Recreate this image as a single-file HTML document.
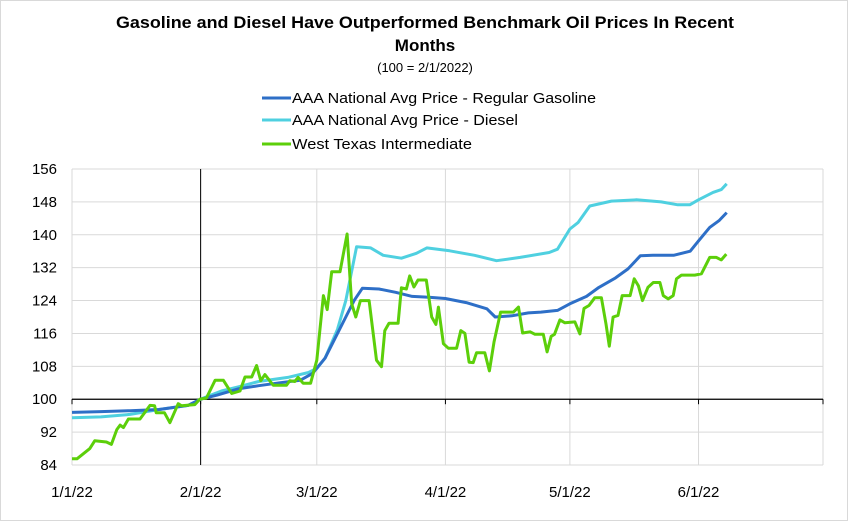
<!DOCTYPE html>
<html><head><meta charset="utf-8"><style>
body{margin:0;background:#fff;}
svg{display:block;font-family:"Liberation Sans",sans-serif;}
</style></head><body>
<svg id="chart" width="851" height="521" viewBox="0 0 851 521">
<rect x="0.5" y="0.5" width="847" height="520" fill="#fff" stroke="#d9d9d9"/>
<text x="425" y="28" text-anchor="middle" font-size="17" font-weight="bold" textLength="618" lengthAdjust="spacingAndGlyphs">Gasoline and Diesel Have Outperformed Benchmark Oil Prices In Recent</text>
<text x="425" y="51" text-anchor="middle" font-size="17" font-weight="bold">Months</text>
<text x="425" y="72" text-anchor="middle" font-size="13">(100 = 2/1/2022)</text>
<g>
<g><line x1="262" y1="98" x2="291" y2="98" stroke="#2e6fc7" stroke-width="3"/><text x="292" y="103" font-size="14.5" textLength="304" lengthAdjust="spacingAndGlyphs">AAA National Avg Price - Regular Gasoline</text></g>
<g><line x1="262" y1="120" x2="291" y2="120" stroke="#4fd0e0" stroke-width="3"/><text x="292" y="125" font-size="14.5" textLength="226" lengthAdjust="spacingAndGlyphs">AAA National Avg Price - Diesel</text></g>
<g><line x1="262" y1="144" x2="291" y2="144" stroke="#5ccf0a" stroke-width="3"/><text x="292" y="149" font-size="14.5" textLength="180" lengthAdjust="spacingAndGlyphs">West Texas Intermediate</text></g>
</g>
<g id="plot"></g>
</svg>
<script>
const yTicks=[84,92,100,108,116,124,132,140,148,156];
const xTickDays=[0,31,59,90,120,151,181];
const xTickLabels=["1/1/22","2/1/22","3/1/22","4/1/22","5/1/22","6/1/22",""];
const gasDays=[0,7,14,21,28,31,35,40,45,50,55,58,61,64,66,68,70,74,78,82,86,90,95,100,102,106,110,113,117,120,124,127,131,134,137,140,145,149,151,153.7,156,157.8];
const gasVals=[96.8,97,97.2,97.5,98.5,100,101,102.5,103.3,104,104.6,106.3,110,116,120,124,127,126.8,126,125,124.8,124.5,123.5,122,120,120.3,121,121.2,121.6,123.2,125,127.2,129.5,131.7,134.9,135,135,136,138.5,141.8,143.5,145.4];
const dslDays=[0,7,14,21,28,31,36,40,45,52,57,59,61,64,66,68.6,72,75,79.4,83,85.5,91,97,102.3,108,115,117,120,122,124.8,130,136,142,146,148.9,151,154.5,156.5,157.8];
const dslVals=[95.5,95.7,96.3,97.5,98.5,100,102,103,104.3,105.3,106.5,107.5,110,117,124,137.1,136.8,135,134.3,135.5,136.8,136.1,135,133.7,134.5,135.7,136.5,141.4,143,147,148.2,148.5,148,147.3,147.3,148.5,150.3,151,152.4];
const wtiDays=[0,1.2,4.3,5.5,8.3,9.5,10.8,11.6,12.4,13.6,16.4,18.8,19.9,20.3,22.3,23.6,25.6,26.4,29.6,30.8,32.4,34.5,36.5,38.5,40.5,41.7,43.3,44.5,45.5,46.5,48.5,51.7,52.5,53.7,54.5,55.7,57.5,59,60.6,61.5,62.6,64.6,66.3,67.4,68.4,69.5,71.6,73.4,74.6,75.4,76.4,78.6,79.4,80.6,81.4,82.4,83.4,85.4,86.7,87.7,88.3,89.5,90.7,92.7,93.7,94.7,95.7,96.7,97.5,99.5,100.6,101.7,103.3,106.4,107.6,108.6,110.4,111.6,113.6,114.5,115.5,116.3,117.6,118.8,121.2,122.4,123.4,124.6,126,127.6,128.7,129.5,130.4,131.6,132.6,134.5,135.5,136.5,137.5,138.8,140.1,141.7,142.5,143.7,144.9,145.7,146.9,150.1,151.7,153.7,155.3,156.5,157.7];
const wtiVals=[85.5,85.5,88,89.9,89.6,89,92.6,93.7,93.1,95.2,95.2,98.5,98.4,96.7,96.7,94.3,98.9,98.4,98.7,100,100.3,104.6,104.6,101.4,102,105.4,105.4,108.2,104.5,106,103.4,103.4,104.5,104.3,105.3,103.9,103.9,109.5,125.2,121.8,131,131,140.2,123.2,120,124,124,109.5,107.9,116.7,118.5,118.5,127.1,126.8,130,127.3,129,129,120,118.2,122.4,113.5,112.4,112.4,116.7,116,109,108.9,111.3,111.3,106.9,113.9,121.2,121.2,122.4,116.1,116.4,115.8,115.8,111.5,115.3,115.8,119.3,118.6,118.8,115.9,122.1,122.8,124.7,124.7,118.3,112.9,120,120.4,125.2,125.2,129.3,127.6,124,127.2,128.4,128.4,125.2,124.4,125.2,129.3,130.2,130.2,130.5,134.5,134.5,133.9,135.3];

const L=72,R=823,T=169,B=465,dMin=0,dMax=181,vMin=84,vMax=156;
function xS(d){return L+(d-dMin)/(dMax-dMin)*(R-L);}
function yS(v){return B-(v-vMin)/(vMax-vMin)*(B-T);}
const NS="http://www.w3.org/2000/svg";
const plot=document.getElementById('plot');
function mk(tag,attrs,parent){const e=document.createElementNS(NS,tag);for(const k in attrs)e.setAttribute(k,attrs[k]);(parent||plot).appendChild(e);return e;}

yTicks.forEach(v=>{
  const g=mk('line',{x1:L,x2:R,y1:yS(v),y2:yS(v),stroke:'#d9d9d9','stroke-width':1});
  
  
  const t=mk('text',{x:57,y:yS(v)+5,'text-anchor':'end','font-size':15});
  t.textContent=v;
  
  
});
xTickDays.forEach((d,i)=>{
  const g=mk('line',{x1:xS(d),x2:xS(d),y1:T,y2:B,stroke:'#d9d9d9','stroke-width':1});
  
  
  const tk=mk('line',{x1:xS(d),x2:xS(d),y1:yS(100),y2:yS(100)+5,stroke:'#000','stroke-width':1});
  
  
  const t=mk('text',{x:xS(d),y:497,'text-anchor':'middle','font-size':15});
  t.textContent=xTickLabels[i];
  
  
});
const ax=mk('line',{x1:L,x2:R,y1:yS(100),y2:yS(100),stroke:'#000','stroke-width':1.3});


const bl=mk('line',{x1:xS(31),x2:xS(31),y1:T,y2:B,stroke:'#000','stroke-width':1});



function series(days,vals,color,name){
  const pts=days.map((d,i)=>xS(d).toFixed(1)+','+yS(vals[i]).toFixed(1)).join(' ');
  const p=mk('polyline',{points:pts,fill:'none',stroke:color,'stroke-width':3,'stroke-linejoin':'round'});
  
  
}
series(dslDays,dslVals,'#4fd0e0','diesel-line');
series(gasDays,gasVals,'#2e6fc7','gasoline-line');
series(wtiDays,wtiVals,'#5ccf0a','wti-line');
</script>
</body></html>
